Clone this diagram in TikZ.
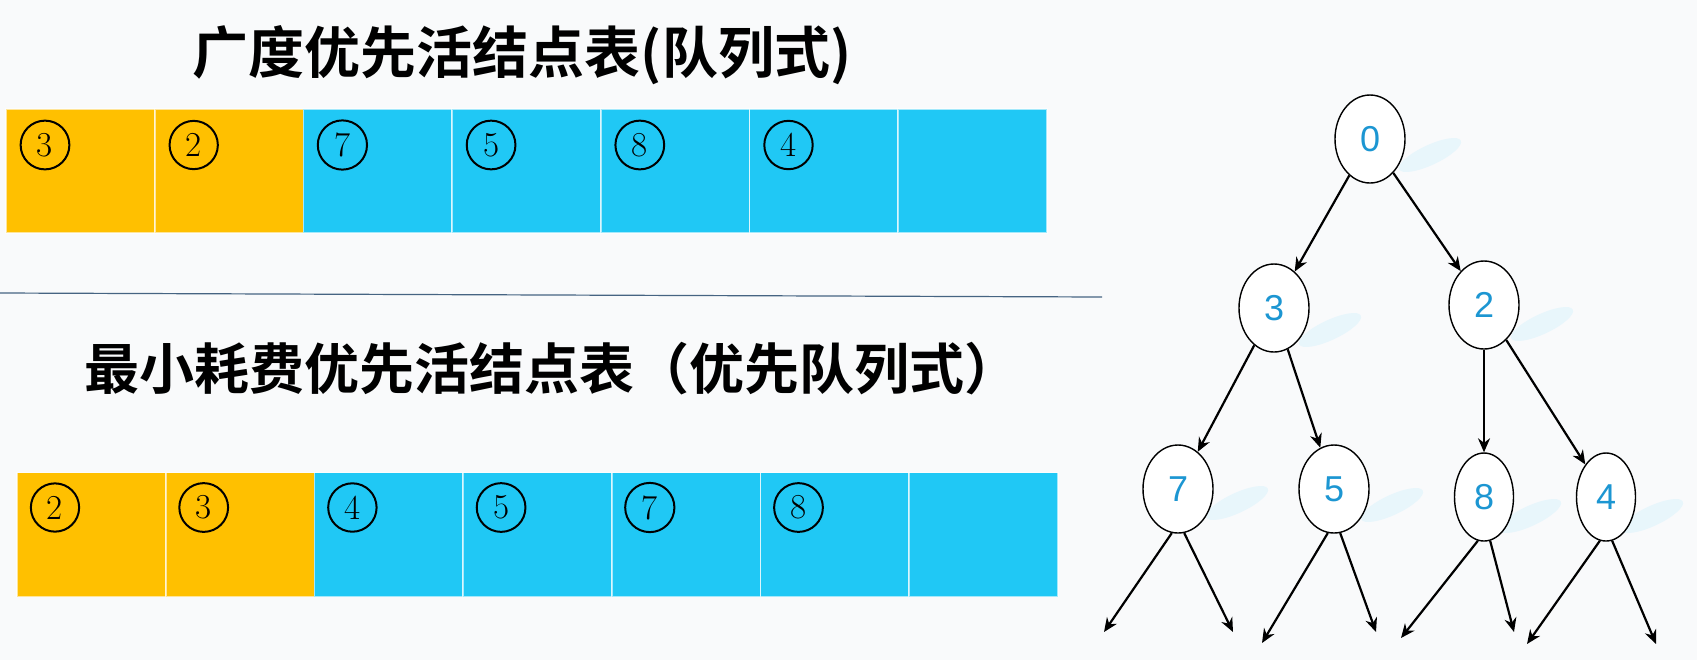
\documentclass[tikz,border=0pt]{standalone}
\usepackage{fontspec}
\usepackage{tikz}
\usetikzlibrary{positioning,calc,arrows.meta,shapes.geometric,backgrounds}
\newfontfamily\cjk{Noto Sans CJK SC}[BoldFont={Noto Sans CJK SC Bold}]
\newfontfamily\arial{Liberation Sans}
\definecolor{gold}{RGB}{255,192,0}
\definecolor{sky}{RGB}{32,200,245}
\definecolor{digit}{RGB}{28,150,210}
\definecolor{haze}{RGB}{232,246,251}
\definecolor{paper}{RGB}{249,250,251}
\definecolor{rule}{RGB}{70,100,130}

\begin{document}
\begin{tikzpicture}[x=0.5pt,y=-0.5pt,
  cell/.style={rectangle,minimum width=74.35pt,minimum height=62pt,inner sep=0pt,outer sep=0pt,draw=white,draw opacity=.6,line width=.8pt},
  numring/.style={circle,draw,line width=1pt,inner sep=3.6pt,minimum width=22.5pt,minimum height=22.5pt,font=\fontsize{17.5}{17.5}\selectfont},
  title/.style={font=\cjk\bfseries\fontsize{28}{30}\selectfont},
  vert/.style={ellipse,draw,line width=.7pt,fill=white,minimum width=35pt,minimum height=44pt,inner sep=0pt,text=digit,font=\arial\fontsize{18}{18}\selectfont},
  arr/.style={-{Stealth[length=7pt,width=6pt]},line width=1.1pt},
  smudge/.style={ellipse,fill=haze,minimum width=34pt,minimum height=10pt,rotate=25}]
\useasboundingbox (0,0) rectangle (1697,660);

% titles
\node[title] (t1) at (522,55) {广度优先活结点表(队列式)};
\node[title,font=\cjk\bfseries\fontsize{27.5}{30}\selectfont] (t2) at (552,369) {最小耗费优先活结点表（优先队列式）};

\draw[rule,line width=.6pt] (0,293) -- (1102,297);

% the two lists
\foreach \i/\c in {1/gold,2/gold,3/sky,4/sky,5/sky,6/sky,7/sky}{
\node[cell,fill=\c] (q\i) at ({6+(\i-0.5)*148.7},171) {};
\node[cell,fill=\c] (p\i) at ({17+(\i-0.5)*148.7},534.5) {};}

\foreach \i/\d in {1/3,2/2,3/7,4/5,5/8,6/4}{
\node[numring] (qn\i) at ($(q\i.north west)+(39,36)$) {\d};}
\foreach \i/\d in {1/2,2/3,3/4,4/5,5/7,6/8}{
\node[numring] (pn\i) at ($(p\i.north west)+(38,35)$) {\d};}

% tree
\node[vert] (n0) at (1370,139) {0};
\node[vert] (n3) at (1274,308) {3};
\node[vert] (n2) at (1484,305) {2};
\node[vert] (n7) at (1178,489) {7};
\node[vert] (n5) at (1334,489) {5};
\node[vert,minimum width=29.5pt] (n8) at (1484,497) {8};
\node[vert,minimum width=29.5pt] (n4) at (1606,497) {4};

\foreach \a/\b in {n0/n3,n0/n2,n3/n7,n3/n5,n2/n8,n2/n4}{
\draw[arr] (\a) -- (\b);}

\coordinate (l7a) at (1104,632); \coordinate (l7b) at (1233,632);
\coordinate (l5a) at (1262,643); \coordinate (l5b) at (1376,632);
\coordinate (l8a) at (1401,638); \coordinate (l8b) at (1514,632);
\coordinate (l4a) at (1527,644); \coordinate (l4b) at (1656,644);

\foreach \v/\a/\b in {n7/l7a/l7b,n5/l5a/l5b,n8/l8a/l8b,n4/l4a/l4b}{
\draw[arr] (\v.262) -- (\a);
\draw[arr] (\v.278) -- (\b);}

\begin{scope}[on background layer]
\fill[paper] (0,0) rectangle (1697,660);
\foreach \v/\dx/\dy in {n0/60/16,n3/56/22,n2/58/19,n7/59/14,n5/58/16,n8/46/19,n4/46/19}{
\node[smudge] (s\v) at ($(\v)+(\dx,\dy)$) {};}
\end{scope}
\end{tikzpicture}
\end{document}
